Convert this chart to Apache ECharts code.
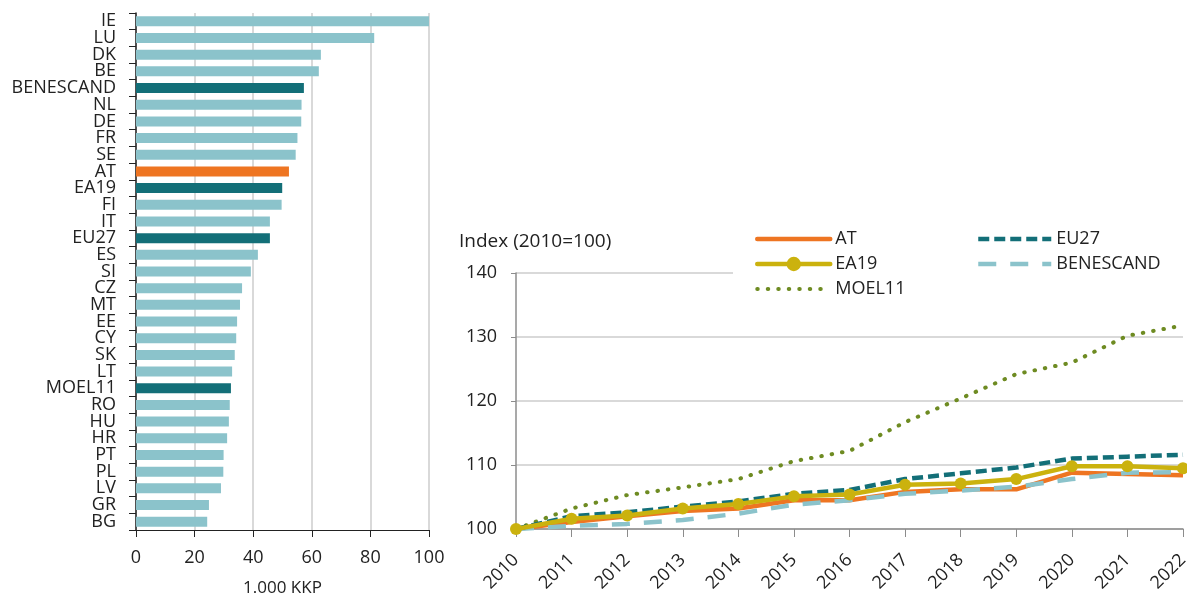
<!DOCTYPE html>
<html><head><meta charset="utf-8">
<script src="https://cdn.jsdelivr.net/npm/echarts@6/dist/echarts.min.js"></script>
<style>html,body{margin:0;padding:0;background:#fff}#c{width:1187px;height:595px}</style>
</head><body><div id="c"></div>
<script>
// ---- data ----
const barCategories = ['IE','LU','DK','BE','BENESCAND','NL','DE','FR','SE','AT','EA19','FI','IT','EU27','ES','SI','CZ','MT','EE','CY','SK','LT','MOEL11','RO','HU','HR','PT','PL','LV','GR','BG'];
const barValues = [100.3,81.3,63.1,62.4,57.3,56.5,56.4,55.1,54.5,52.2,49.9,49.7,45.7,45.7,41.6,39.2,36.2,35.5,34.5,34.2,33.7,32.8,32.4,32.0,31.7,31.1,29.9,29.8,29.0,24.9,24.3];
const barTicks = [0,20,40,60,80,100];
const aggregateCats = ['BENESCAND','EA19','EU27','MOEL11'];
const focusCat = 'AT';

const years = ['2010','2011','2012','2013','2014','2015','2016','2017','2018','2019','2020','2021','2022'];
const AT        = [100,101.1,102.0,102.8,103.2,104.5,104.5,105.8,106.2,106.2,108.8,108.6,108.4];
const EA19      = [100,101.6,102.1,103.2,103.9,105.1,105.4,106.9,107.1,107.8,109.8,109.8,109.5];
const EU27      = [100,102.0,102.6,103.5,104.3,105.5,106.1,107.8,108.7,109.6,111.0,111.3,111.6];
const BENESCAND = [100,100.5,100.8,101.4,102.4,103.8,104.5,105.5,106.0,106.6,107.8,108.8,108.9];
const MOEL11    = [100,103.2,105.3,106.5,107.8,110.6,112.2,116.7,120.4,124.2,126.0,130.2,131.8];
const lineTicks = [100,110,120,130,140];

const C_LIGHT = '#8BC3CB', C_DARK = '#136F78', C_ORANGE = '#EE7522', C_YELLOW = '#CBB20E', C_OLIVE = '#6E8B22';
const FONT = 'Open Sans';
const TXT = '#222';
const FS = 18;

const barData = barCategories.map((c, i) => ({
  value: barValues[i],
  itemStyle: { color: c === focusCat ? C_ORANGE : (aggregateCats.includes(c) ? C_DARK : C_LIGHT) }
}));

const noSym = { opacity: 0 };
const legendText = { fontFamily: FONT, fontSize: FS, color: TXT, lineHeight: 18, padding: [0,0,0,0] };

const chart = echarts.init(document.getElementById('c'));
chart.setOption({
  animation: false,
  textStyle: { fontFamily: FONT, color: TXT },
  grid: [
    { left: 136, top: 13, width: 293, height: 517, containLabel: false, outerBoundsMode: 'none' },
    { left: 516, top: 273, width: 667, height: 256, containLabel: false, outerBoundsMode: 'none' }
  ],
  title: {
    text: 'Index (2010=100)', left: 459, top: 232, padding: 0,
    textStyle: { fontFamily: FONT, fontSize: 19, fontWeight: 'normal', color: TXT }
  },
  graphic: [{ type: 'rect', z: 1, shape: { x: 733, y: 226, width: 454, height: 76 }, style: { fill: '#fff' } }],
  legend: [
    { left: 755, top: 230, orient: 'vertical', padding: 0, itemWidth: 73, itemHeight: 18, itemGap: 7, z: 5,
      textStyle: legendText,
      data: [
        { name: 'AT', itemStyle: noSym, lineStyle: { width: 4.5, cap: 'round' } },
        { name: 'EA19', lineStyle: { width: 4.5, cap: 'round' } },
        { name: 'MOEL11', itemStyle: noSym, lineStyle: { width: 4, cap: 'round' } }
      ] },
    { left: 976, top: 230, orient: 'vertical', padding: 0, itemWidth: 73, itemHeight: 18, itemGap: 7, z: 5,
      textStyle: legendText,
      data: [
        { name: 'EU27', itemStyle: noSym, lineStyle: { width: 4.5 } },
        { name: 'BENESCAND', itemStyle: noSym, lineStyle: { width: 4.5 } }
      ] }
  ],
  xAxis: [
    { type: 'value', gridIndex: 0, min: barTicks[0], max: barTicks[barTicks.length-1], interval: 20,
      axisLine: { show: true, lineStyle: { color: '#222', width: 1 } },
      axisTick: { show: true, length: 7, lineStyle: { color: '#222' } },
      axisLabel: { fontSize: FS, color: TXT, margin: 19, fontFamily: FONT },
      splitLine: { show: true, lineStyle: { color: '#d9d9d9', width: 2 } },
      name: '1.000 KKP', nameLocation: 'middle', nameGap: 50,
      nameTextStyle: { fontSize: 17, color: TXT, fontFamily: FONT } },
    { type: 'category', gridIndex: 1, data: years, boundaryGap: false,
      axisLine: { lineStyle: { color: '#8c8c8c', width: 1.5 } },
      axisTick: { show: true, length: 8, lineStyle: { color: '#8c8c8c' } },
      axisLabel: { rotate: 45, fontSize: FS, color: TXT, margin: 28, fontFamily: FONT, interval: 0 },
      splitLine: { show: false } }
  ],
  yAxis: [
    { type: 'category', gridIndex: 0, data: barCategories, inverse: true,
      axisLine: { show: true, lineStyle: { color: '#222', width: 1.5 } },
      axisTick: { show: true, length: 7, lineStyle: { color: '#222' } },
      axisLabel: { fontSize: FS, color: TXT, margin: 20, fontFamily: FONT, interval: 0 } },
    { type: 'value', gridIndex: 1, min: lineTicks[0], max: lineTicks[lineTicks.length-1], interval: 10,
      axisLine: { show: true, lineStyle: { color: '#8c8c8c', width: 1.5 } },
      axisTick: { show: true, length: 5, lineStyle: { color: '#8c8c8c' } },
      axisLabel: { fontSize: FS, color: TXT, margin: 19, fontFamily: FONT },
      splitLine: { show: true, lineStyle: { color: '#d9d9d9', width: 2 } } }
  ],
  series: [
    { type: 'bar', xAxisIndex: 0, yAxisIndex: 0, data: barData, barWidth: 10 },
    { name: 'MOEL11', type: 'line', xAxisIndex: 1, yAxisIndex: 1, data: MOEL11, symbol: 'none',
      lineStyle: { color: C_OLIVE, width: 4, type: [0.5, 10], cap: 'round' }, itemStyle: { color: C_OLIVE } },
    { name: 'AT', type: 'line', xAxisIndex: 1, yAxisIndex: 1, data: AT, symbol: 'none',
      lineStyle: { color: C_ORANGE, width: 4.5 }, itemStyle: { color: C_ORANGE } },
    { name: 'BENESCAND', type: 'line', xAxisIndex: 1, yAxisIndex: 1, data: BENESCAND, symbol: 'none',
      lineStyle: { color: C_LIGHT, width: 4.5, type: [18, 14] }, itemStyle: { color: C_LIGHT } },
    { name: 'EU27', type: 'line', xAxisIndex: 1, yAxisIndex: 1, data: EU27, symbol: 'none',
      lineStyle: { color: C_DARK, width: 4.5, type: [11, 5] }, itemStyle: { color: C_DARK } },
    { name: 'EA19', type: 'line', xAxisIndex: 1, yAxisIndex: 1, data: EA19, symbol: 'circle', symbolSize: 12,
      lineStyle: { color: C_YELLOW, width: 4.5 }, itemStyle: { color: C_YELLOW } }
  ]
});
</script></body></html>
